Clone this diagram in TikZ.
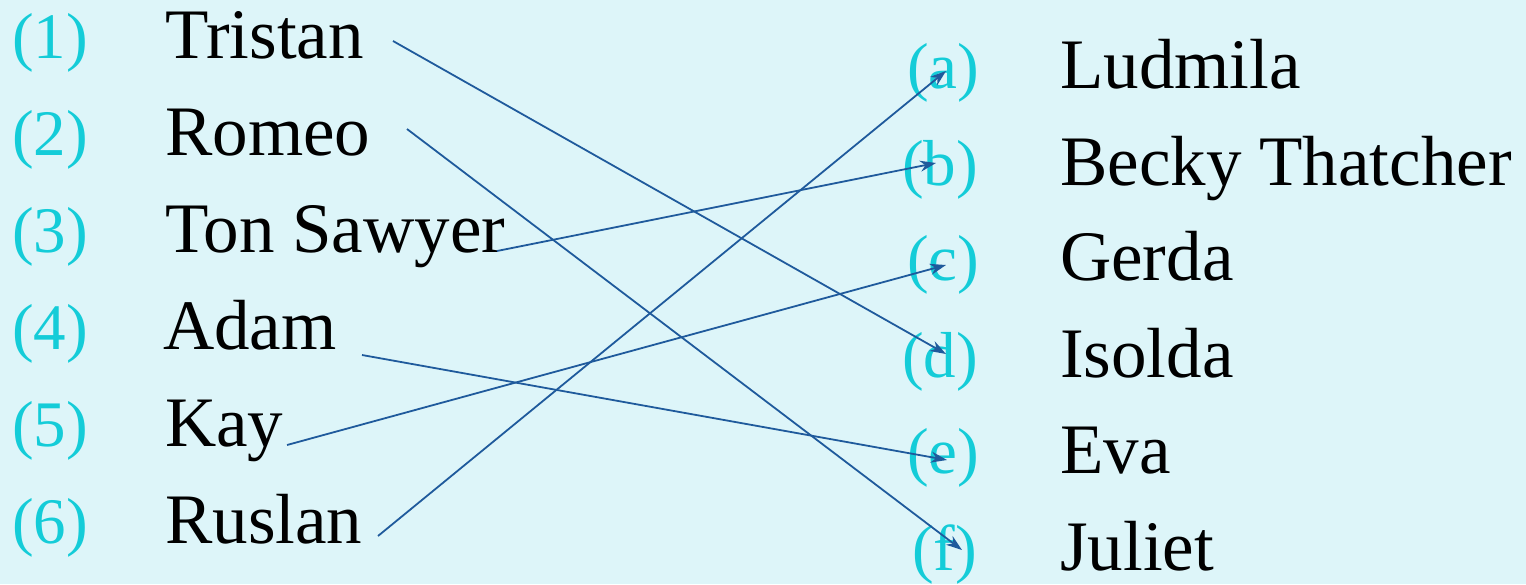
\documentclass[tikz,border=0pt]{standalone}
\usepackage{fontspec}
\setmainfont{Liberation Serif}
\usetikzlibrary{arrows.meta}
\definecolor{bg}{HTML}{DDF5F9}
\definecolor{lab}{HTML}{14CCD8}
\definecolor{ln}{HTML}{1F5A9C}
\begin{document}
\begin{tikzpicture}[x=1pt,y=-1pt,
  lbl/.style={anchor=base west,inner sep=0pt,text=lab,font=\fontsize{65}{65}\selectfont},
  nm/.style={anchor=base west,inner sep=0pt,text=black,font=\fontsize{71}{71}\selectfont},
  conn/.style={draw=ln,line width=1.8pt,-{Stealth[length=16pt,width=11pt]}}]
\fill[bg] (0,0) rectangle (1526,584);
\useasboundingbox (0,0) rectangle (1526,584);
% left column
\node[lbl] (l1) at (12,58) {(1)};
\node[lbl] (l2) at (12,155) {(2)};
\node[lbl] (l3) at (12,252) {(3)};
\node[lbl] (l4) at (12,349) {(4)};
\node[lbl] (l5) at (12,446) {(5)};
\node[lbl] (l6) at (12,543) {(6)};
\node[nm] (n1) at (165,58) {Tristan};
\node[nm] (n2) at (165,155) {Romeo};
\node[nm] (n3) at (165,252) {Ton Sawyer};
\node[nm] (n4) at (163,349) {Adam};
\node[nm] (n5) at (165,446) {Kay};
\node[nm] (n6) at (165,543) {Ruslan};
% right column
\node[lbl] (ra) at (907,88) {(a)};
\node[lbl] (rb) at (902,185) {(b)};
\node[lbl] (rc) at (907,280) {(c)};
\node[lbl] (rd) at (902,377) {(d)};
\node[lbl] (re) at (907,473) {(e)};
\node[lbl] (rf) at (912,570) {(f)};
\node[nm] (ma) at (1060,88) {Ludmila};
\node[nm] (mb) at (1060,185) {Becky Thatcher};
\node[nm] (mc) at (1060,280) {Gerda};
\node[nm] (md) at (1060,377) {Isolda};
\node[nm] (me) at (1060,473) {Eva};
\node[nm] (mf) at (1060,570) {Juliet};
% connector endpoints
\coordinate (s1) at (393,41);
\coordinate (s2) at (407,129);
\coordinate (s3) at (497,251);
\coordinate (s4) at (362,355);
\coordinate (s5) at (287,445);
\coordinate (s6) at (378,536);
\coordinate (ta) at (946,71);
\coordinate (tb) at (936,163);
\coordinate (tc) at (946,265);
\coordinate (td) at (946,354);
\coordinate (te) at (947,460);
\coordinate (tf) at (962,550);
\draw[conn] (s1) -- (td);
\draw[conn] (s2) -- (tf);
\draw[conn] (s3) -- (tb);
\draw[conn] (s4) -- (te);
\draw[conn] (s5) -- (tc);
\draw[conn] (s6) -- (ta);
\end{tikzpicture}
\end{document}
